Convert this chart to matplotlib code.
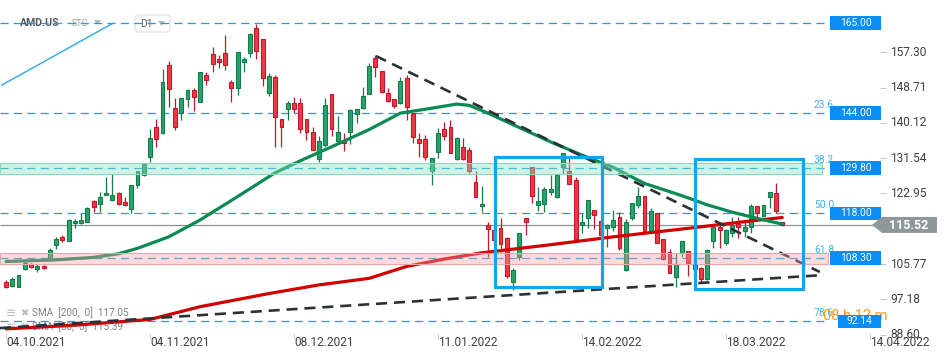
import matplotlib.pyplot as plt
import matplotlib.patches as mpatches
import matplotlib.transforms as mtransforms

plt.rcParams['font.family'] = ['Roboto', 'DejaVu Sans']

# daily candles, AMD.US, bar 0 = 04.10.2021
opens = [101.5, 100.5, 100.3, 104.5, 105.7, 104.5, 105.3, 106.8, 110.3, 112.4,
         111.5, 115.7, 115.7, 116.1, 121.0, 120.3, 122.6, 121.3, 123.1, 120.9,
         119.1, 124.9, 127.5, 131.9, 139.2, 137.6, 154.2, 143.7, 142.5, 145.9,
         148.1, 145.3, 151.7, 156.8, 155.6, 157.1, 150.0, 148.7, 155.0, 157.2,
         163.1, 160.5, 147.3, 151.2, 141.0, 143.4, 144.9, 144.9, 141.0, 138.0,
         131.3, 134.8, 147.1, 135.8, 135.6, 138.0, 142.3, 143.7, 147.2, 155.8,
         152.8, 147.3, 145.9, 144.9, 151.0, 142.5, 136.2, 136.2, 128.5, 133.1,
         138.6, 139.2, 131.3, 134.3, 133.5, 125.8, 119.9, 115.4, 114.1, 114.5,
         112.0, 101.3, 107.4, 116.9, 129.5, 120.2, 120.4, 123.2, 122.0, 129.5,
         128.3, 126.2, 115.3, 116.9, 118.9, 116.3, 114.6, 114.9, 117.3, 104.3,
         116.9, 120.2, 122.3, 113.7, 118.1, 111.8, 108.6, 102.6, 108.4, 109.0,
         105.8, 104.7, 102.1, 111.5, 114.7, 110.8, 113.4, 115.5, 113.7, 114.7,
         119.9, 117.5, 122.0, 123.0, 116.1]
highs = [101.9, 102.7, 103.0, 106.9, 106.1, 105.7, 105.5, 109.8, 112.3, 112.9,
         116.7, 116.7, 118.1, 119.6, 121.4, 123.2, 127.0, 127.6, 123.3, 122.2,
         124.9, 128.5, 130.3, 138.6, 141.1, 153.2, 155.2, 146.1, 146.3, 148.3,
         148.5, 152.6, 152.6, 158.5, 156.6, 161.5, 150.6, 157.3, 156.1, 161.9,
         164.2, 160.5, 152.2, 151.8, 141.0, 145.4, 146.5, 146.1, 141.0, 139.1,
         136.9, 146.1, 147.1, 141.8, 137.6, 143.4, 143.4, 148.9, 154.8, 156.6,
         152.8, 148.5, 145.9, 151.2, 151.8, 142.5, 137.6, 137.2, 131.5, 138.8,
         140.3, 140.8, 136.8, 136.4, 134.3, 128.3, 124.8, 116.1, 114.9, 116.9,
         112.4, 104.7, 113.3, 116.9, 129.5, 124.6, 124.6, 127.5, 127.5, 132.7,
         131.5, 126.9, 118.1, 121.4, 118.9, 116.3, 115.5, 118.9, 118.4, 116.7,
         120.7, 124.6, 122.3, 119.3, 118.1, 111.8, 109.4, 108.4, 111.5, 109.0,
         105.8, 105.1, 109.4, 114.9, 115.7, 114.2, 117.3, 117.3, 116.1, 120.4,
         119.9, 120.2, 123.4, 125.6, 116.1]
lows = [99.9, 100.3, 100.2, 104.3, 104.7, 103.9, 104.5, 106.6, 109.4, 111.1,
        111.4, 114.5, 115.5, 116.0, 118.5, 118.5, 122.5, 121.2, 120.2, 119.9,
        118.3, 124.2, 127.1, 130.7, 134.3, 137.5, 144.1, 138.4, 140.8, 144.1,
        142.9, 145.2, 149.3, 152.4, 153.4, 153.0, 145.3, 146.9, 152.4, 156.2,
        155.6, 149.2, 146.7, 134.3, 134.3, 140.8, 142.5, 137.6, 136.0, 133.5,
        130.5, 134.3, 136.9, 135.8, 133.4, 135.0, 140.0, 143.6, 147.1, 151.4,
        147.5, 145.3, 143.7, 144.8, 140.8, 135.3, 131.8, 131.1, 124.9, 131.5,
        136.0, 132.7, 131.2, 131.2, 127.9, 122.1, 118.5, 107.6, 111.2, 108.8,
        102.3, 99.5, 106.8, 112.9, 120.6, 118.8, 118.5, 122.6, 121.9, 127.7,
        125.2, 111.6, 113.4, 114.5, 114.2, 112.4, 110.0, 113.7, 109.2, 104.2,
        116.5, 119.3, 113.3, 113.4, 110.8, 106.8, 103.5, 100.3, 107.4, 102.9,
        104.3, 101.1, 101.9, 109.6, 109.6, 110.4, 112.3, 112.0, 112.3, 113.4,
        117.3, 117.3, 119.3, 118.3, 115.1]
closes = [100.1, 102.1, 103.0, 106.0, 105.0, 105.3, 104.7, 109.2, 111.9, 111.6,
          116.5, 116.3, 116.5, 119.3, 119.6, 122.0, 123.1, 122.7, 120.3, 120.1,
          124.9, 128.3, 130.1, 136.4, 136.1, 150.0, 148.3, 139.2, 146.3, 148.1,
          146.5, 152.4, 150.6, 154.4, 154.9, 154.1, 148.7, 157.3, 155.7, 161.8,
          157.7, 151.0, 151.6, 141.6, 139.1, 144.9, 143.6, 138.6, 137.8, 133.5,
          135.8, 144.4, 138.6, 137.8, 135.2, 143.3, 143.4, 146.7, 154.0, 153.8,
          147.7, 145.5, 144.2, 150.2, 143.9, 136.6, 135.3, 131.8, 131.5, 137.6,
          137.0, 132.7, 136.4, 131.3, 128.3, 122.2, 120.4, 114.2, 111.6, 110.7,
          102.9, 104.3, 113.3, 115.9, 122.3, 121.0, 124.0, 124.0, 127.5, 132.7,
          125.3, 111.8, 115.9, 121.4, 117.7, 112.9, 115.4, 116.5, 109.6, 115.9,
          120.7, 122.3, 113.7, 118.8, 111.0, 106.9, 103.5, 105.8, 111.5, 106.1,
          104.5, 102.1, 109.2, 114.7, 114.1, 114.1, 115.3, 114.7, 114.9, 119.9,
          118.3, 120.2, 123.4, 118.8, 115.3]

# moving averages (bar index, value)
sma50_idx = [0, 8, 14, 18, 21, 26, 31, 37, 43, 47, 52, 58, 63, 68, 72, 74, 77,
             82, 87, 92, 97, 102, 108, 112, 116, 120, 124]
sma50_val = [106.4, 106.8, 107.4, 108.3, 109.6, 112.4, 116.5, 122.2, 128.0, 130.9,
             134.3, 138.5, 142.5, 143.7, 144.7, 144.4, 142.5, 139.0, 135.5, 132.3,
             129.3, 125.4, 122.4, 120.2, 118.4, 116.9, 115.5]
sma200_idx = [0, 11, 23, 31, 42, 50, 58, 64, 70, 76, 86, 97, 108, 118, 124]
sma200_val = [90.0, 90.9, 92.3, 95.4, 98.6, 100.7, 102.3, 105.2, 107.0, 108.5,
              110.3, 112.4, 114.3, 116.1, 117.1]

date_ticks = [0, 23, 46, 69, 92, 115, 138]
date_labels = ["04.10.2021", "04.11.2021", "08.12.2021", "11.01.2022",
               "14.02.2022", "18.03.2022", "14.04.2022"]
price_ticks = [157.30, 148.71, 140.12, 131.54, 122.95, 105.77, 97.18, 88.60]

# drawn levels / fibo
level_prices = [164.4, 142.5, 129.1, 118.1, 107.2, 91.8]
level_labels = ["165.00", "144.00", "129.80", "118.00", "108.30", "92.14"]
fib_labels = ["", "23.6", "38.2", "50.0", "61.8", "78.6"]
last_label = "115.52"

cyan_zone = (127.7, 130.3)
pink_zone = (105.8, 108.4)
down_trend = ([59.1, 130.0], [156.4, 103.85])
up_trend = ([-0.96, 130.5], [90.2, 103.1])
blue_trend = ([-0.7, 17.1], [149.3, 164.4])
boxes = [(78.1, 100.1, 95.2, 131.9), (110.1, 99.6, 127.3, 131.3)]

X_LEFT, X_RIGHT = -0.96, 150.8
Y_BOTTOM, Y_TOP = 82.43, 170.03
W, H = 950, 360

GREEN, GREEN_EDGE = "#27a46a", "#167a4a"
RED, RED_EDGE = "#f23645", "#bf1a2c"
FIB_BLUE = "#1e9be9"
TEXT = "#3c4043"

fig = plt.figure(figsize=(W / 100, H / 100), dpi=100)
ax = fig.add_axes([0, 0, 1, 1])
ax.set_xlim(X_LEFT, X_RIGHT)
ax.set_ylim(Y_BOTTOM, Y_TOP)
ax.axis("off")

# pixel coords from top-left, and blended helpers
pxT = mtransforms.Affine2D().scale(0.01, -0.01).translate(0, H / 100) + fig.dpi_scale_trans
px_x_data_y = mtransforms.blended_transform_factory(pxT, ax.transData)
data_x_px_y = mtransforms.blended_transform_factory(ax.transData, pxT)


def to_py(p):
    return H * (Y_TOP - p) / (Y_TOP - Y_BOTTOM)


# horizontal fibo levels
for lev in level_prices:
    ax.hlines(lev, 0, 826, transform=px_x_data_y, color=FIB_BLUE, lw=0.9,
              linestyles=(0, (6.5, 4.2)), zorder=2)

# current price line
ax.hlines(closes[-1], 0, 877, transform=px_x_data_y, color="#8c9396", lw=0.9, zorder=2)

# candles
idx = list(range(len(opens)))
for i in idx:
    up = closes[i] >= opens[i]
    fc, ec = (GREEN, GREEN_EDGE) if up else (RED, RED_EDGE)
    ax.vlines(i, lows[i], highs[i], color=ec, lw=0.9, zorder=3)
    lo, hi = min(opens[i], closes[i]), max(opens[i], closes[i])
    ax.bar(i, max(hi - lo, 0.25), bottom=lo, width=0.62, color=fc, edgecolor=ec,
           linewidth=0.8, zorder=3.5)

# SMAs
ax.plot(sma200_idx, sma200_val, color="#d40000", lw=2.3, zorder=4, solid_capstyle="round")
ax.plot(sma50_idx, sma50_val, color="#0b8a52", lw=2.3, zorder=4, solid_capstyle="round")

# trend lines
for xs, ys in (down_trend, up_trend):
    ax.plot(xs, ys, color="#2b3236", lw=1.9, dashes=(4.2, 2.6), zorder=5)
ax.plot(blue_trend[0], blue_trend[1], color="#29aaf0", lw=1.0, zorder=5)

# zones drawn over candles
ax.add_patch(mpatches.Rectangle((0, cyan_zone[0]), 822, cyan_zone[1] - cyan_zone[0],
                                transform=px_x_data_y, facecolor=(0.55, 0.88, 0.76, 0.42),
                                edgecolor="#8ed8bc", lw=0.8, zorder=6))
ax.add_patch(mpatches.Rectangle((0, pink_zone[0]), 828, pink_zone[1] - pink_zone[0],
                                transform=px_x_data_y, facecolor=(0.96, 0.62, 0.65, 0.38),
                                edgecolor="#f0a4aa", lw=0.8, zorder=6))

# blue boxes
for x0, y0, x1, y1 in boxes:
    ax.add_patch(mpatches.Rectangle((x0, y0), x1 - x0, y1 - y0, fill=False,
                                    edgecolor="#12a5ee", lw=2.3, zorder=7))

# fibo labels and level tags
for lev, fl in zip(level_prices, fib_labels):
    if fl:
        ax.text(814, to_py(lev) - 3, fl, transform=pxT, fontsize=7.4, color="#45b0f0",
                ha="left", va="bottom", zorder=7)
ax.text(823, to_py(level_prices[-1]) - 5, "08 h 12 m", transform=pxT, fontsize=10.5,
        color="#ff9a1a", ha="left", va="center", zorder=7)
for lev, lab in zip(level_prices, level_labels):
    py = to_py(lev)
    x0 = 838 if lab == "92.14" else 830
    ax.add_patch(mpatches.Rectangle((x0, py - 6.8), 881 - x0, 13.6, transform=pxT,
                                    facecolor="#0a8ef5", edgecolor="none", zorder=8))
    ax.text((x0 + 881) / 2, py, lab, transform=pxT, fontsize=7.4, color="white",
            ha="center", va="center", zorder=9)

# current price tag
py = to_py(closes[-1])
ax.add_patch(mpatches.Polygon([(872, py), (882, py - 8), (937, py - 8), (937, py + 8),
                               (882, py + 8)], closed=True, transform=pxT,
                              facecolor="#8e989c", edgecolor="none", zorder=8))
ax.text(909, py + 0.5, last_label, transform=pxT, fontsize=9, fontweight="bold",
        color="white", ha="center", va="center", zorder=9)

# right price axis
for p in price_ticks:
    ax.hlines(p, 880, 886, transform=px_x_data_y, color="#c8c8c8", lw=0.8)
    ax.text(890, p, f"{p:.2f}", transform=px_x_data_y, fontsize=8.6, color=TEXT,
            ha="left", va="center")

# date axis
for t, lab in zip(date_ticks, date_labels):
    ax.vlines(t, 333, 339, transform=data_x_px_y, color="#d0d0d0", lw=0.8)
    ax.text(t, 343, lab, transform=data_x_px_y, fontsize=8.6, color=TEXT,
            ha="left", va="center")

# header
ax.text(20, 23, "AMD.US", transform=pxT, fontsize=7.6, fontweight="bold", color="#50575c",
        ha="left", va="center", zorder=1)
ax.text(72, 24, "STC", transform=pxT, fontsize=6.5, color="#9aa3a8", ha="left",
        va="center", zorder=1)
ax.add_patch(mpatches.Polygon([(94, 20), (101, 20), (97.5, 25)], closed=True, transform=pxT,
                              facecolor="#b5bcc0", edgecolor="none", zorder=1))
ax.add_patch(mpatches.FancyBboxPatch((135, 15), 35, 17, boxstyle="round,pad=0,rounding_size=3",
                                     transform=pxT, facecolor="white", edgecolor="#dcdfe1",
                                     lw=0.8, zorder=1))
ax.text(140, 24, "D1", transform=pxT, fontsize=7.4, color="#5a6166", ha="left",
        va="center", zorder=1)
ax.add_patch(mpatches.Polygon([(158, 21), (165, 21), (161.5, 26)], closed=True, transform=pxT,
                              facecolor="#b5bcc0", edgecolor="none", zorder=1))

# indicator legend
for y, txt in ((313, "SMA  [200,  0]  117.05"), (327, "SMA  [50,  0]  115.39")):
    ax.text(6, y, "\u2261", transform=pxT, fontsize=9, color="#b8bcbf", ha="left",
            va="center", zorder=1)
    ax.text(20, y, "\u2716", transform=pxT, fontsize=7, color="#b8bcbf", ha="left",
            va="center", zorder=1)
    ax.text(32, y, txt, transform=pxT, fontsize=7.2, color="#7b8186", ha="left",
            va="center", zorder=1)

fig.savefig("out.png", dpi=100)
